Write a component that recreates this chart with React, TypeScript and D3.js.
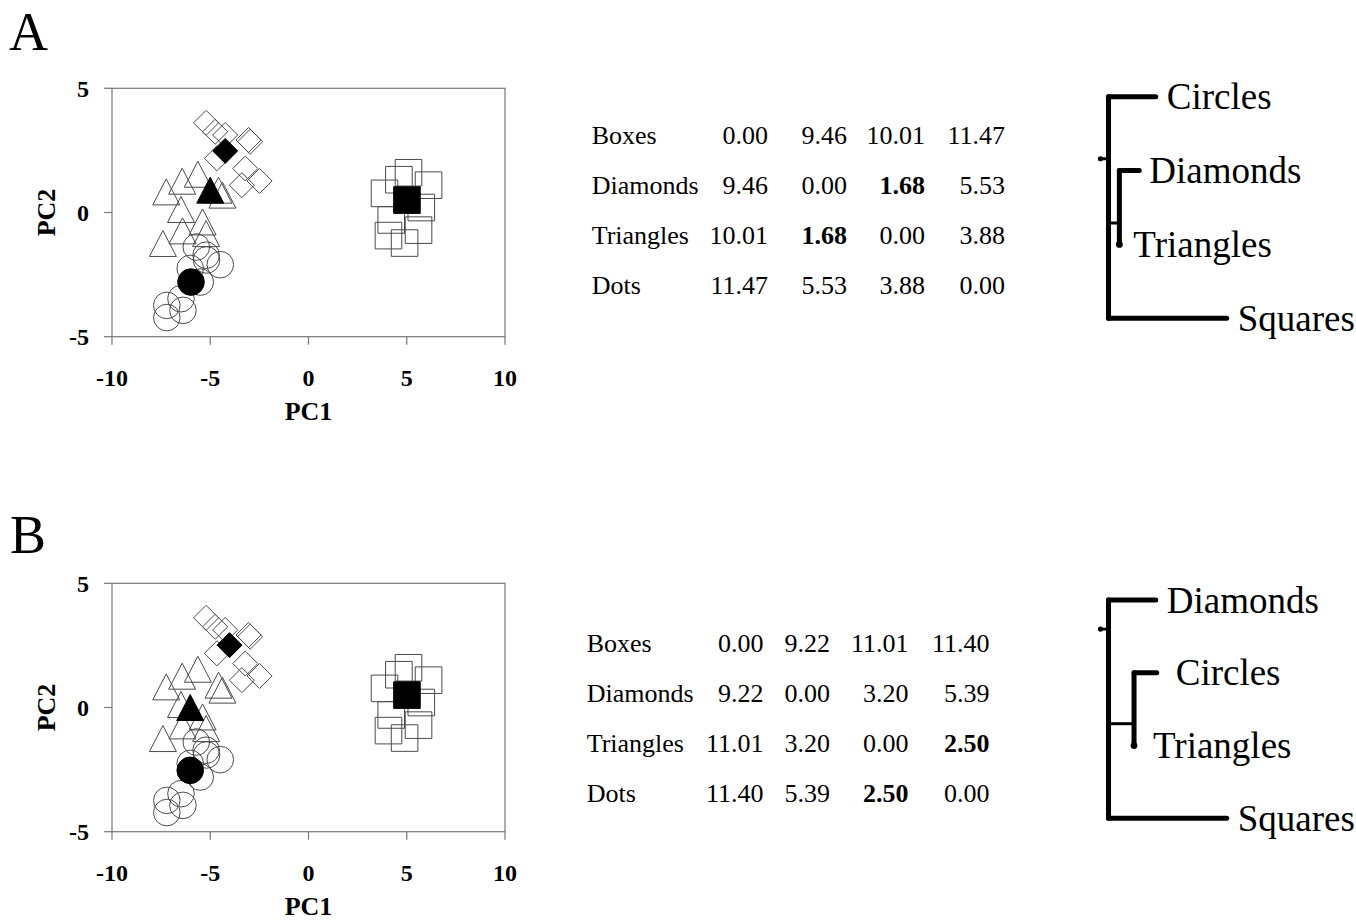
import React from 'react';
import * as d3 from 'd3';

// ---------- data ----------
const xTicks = [-10, -5, 0, 5, 10];
const yTicks = [-5, 0, 5];

const openCircles: [number, number][] = [
  [-5.71, -1.39], [-5.21, -1.72], [-5.19, -1.91], [-4.49, -2.1], [-6.02, -2.25],
  [-5.51, -2.8], [-6.49, -3.47], [-7.21, -3.74], [-6.39, -3.94], [-7.21, -4.23],
];
const openTriangles: [number, number][] = [
  [-7.24, 0.83], [-6.43, 1.26], [-5.63, 1.54], [-4.58, 0.9], [-4.38, 0.7],
  [-6.49, 0.12], [-5.39, -0.38], [-5.21, -0.85], [-6.41, -0.74], [-7.41, -1.25],
];
const openDiamonds: [number, number][] = [
  [-5.21, 3.61], [-4.75, 3.25], [-4.24, 3.12], [-3.05, 2.92], [-2.97, 2.85],
  [-4.66, 2.18], [-3.22, 1.77], [-3.39, 1.1], [-2.49, 1.27],
];
const openSquares: [number, number][] = [
  [5.09, 1.6], [4.6, 1.32], [6.11, 1.1], [3.87, 0.77], [5.74, 0.2],
  [4.21, -0.3], [5.6, -0.71], [4.07, -0.93], [4.89, -1.23],
];

const centroidsA = [
  { shape: 'circle', x: -5.98, y: -2.8 },
  { shape: 'triangle', x: -5.0, y: 0.9 },
  { shape: 'diamond', x: -4.24, y: 2.48 },
  { shape: 'square', x: 5.01, y: 0.5 },
];
const centroidsB = [
  { shape: 'circle', x: -6.02, y: -2.53 },
  { shape: 'triangle', x: -6.02, y: 0.0 },
  { shape: 'diamond', x: -4.02, y: 2.51 },
  { shape: 'square', x: 5.01, y: 0.5 },
];

const rowLabels = ['Boxes', 'Diamonds', 'Triangles', 'Dots'];
const distA = [
  ['0.00', '9.46', '10.01', '11.47'],
  ['9.46', '0.00', '1.68', '5.53'],
  ['10.01', '1.68', '0.00', '3.88'],
  ['11.47', '5.53', '3.88', '0.00'],
];
const boldA = [[1, 2], [2, 1]];
const distB = [
  ['0.00', '9.22', '11.01', '11.40'],
  ['9.22', '0.00', '3.20', '5.39'],
  ['11.01', '3.20', '0.00', '2.50'],
  ['11.40', '5.39', '2.50', '0.00'],
];
const boldB = [[2, 3], [3, 2]];

// dendrograms: leaf order, branch lengths
const leavesA = ['Circles', 'Diamonds', 'Triangles', 'Squares'];
const leavesB = ['Diamonds', 'Circles', 'Triangles', 'Squares'];
// [outer leaf length, inner node depth, inner leaf 1 length, inner leaf 2 length, outgroup length]
const branchA = [1.0, 0.23, 0.42, 0.0, 2.5];
const branchB = [1.0, 0.54, 0.48, 0.0, 2.5];
// root stub position and inner-node connector position (in leaf-index units)
const rootPosA = 0.84, innerPosA = 1.71;
const rootPosB = 0.4, innerPosB = 1.7;

// ---------- drawing ----------
const SERIF = '"Liberation Serif", "Times New Roman", serif';
const MSTROKE = '#4a4a4a';

function markerPath(shape: string, cx: number, cy: number): string {
  const p = d3.path();
  if (shape === 'circle') {
    const r = 13.3;
    p.moveTo(cx + r, cy);
    p.arc(cx, cy, r, 0, Math.PI * 2);
  } else if (shape === 'square') {
    const h = 13.3;
    p.rect(cx - h, cy - h, 2 * h, 2 * h);
  } else if (shape === 'diamond') {
    const h = 12.5;
    p.moveTo(cx, cy - h);
    p.lineTo(cx + h, cy);
    p.lineTo(cx, cy + h);
    p.lineTo(cx - h, cy);
    p.closePath();
  } else {
    const w = 13.5, hh = 13;
    p.moveTo(cx, cy - hh);
    p.lineTo(cx + w, cy + hh);
    p.lineTo(cx - w, cy + hh);
    p.closePath();
  }
  return p.toString();
}

function Scatter({ top, centroids }: { top: number; centroids: { shape: string; x: number; y: number }[] }) {
  const x = d3.scaleLinear().domain([-10, 10]).range([112, 505]);
  const y = d3.scaleLinear().domain([-5, 5]).range([top + 248.4, top]);
  const groups: [string, [number, number][]][] = [
    ['triangle', openTriangles],
    ['circle', openCircles],
    ['diamond', openDiamonds],
    ['square', openSquares],
  ];
  return (
    <g>
      <rect x={x(-10)} y={y(5)} width={x(10) - x(-10)} height={y(-5) - y(5)} fill="none" stroke="#777" strokeWidth={1.2} />
      {xTicks.map((t) => (
        <g key={'xt' + t}>
          <line x1={x(t)} x2={x(t)} y1={y(-5)} y2={y(-5) + 8} stroke="#777" strokeWidth={1.2} />
          <text x={x(t)} y={y(-5) + 49} textAnchor="middle" fontFamily={SERIF} fontWeight="bold" fontSize={24}>{t}</text>
        </g>
      ))}
      {yTicks.map((t) => (
        <g key={'yt' + t}>
          <line x1={x(-10) - 8} x2={x(-10)} y1={y(t)} y2={y(t)} stroke="#777" strokeWidth={1.2} />
          <text x={89} y={y(t)} dy="0.35em" textAnchor="end" fontFamily={SERIF} fontWeight="bold" fontSize={24}>{t}</text>
        </g>
      ))}
      <text x={x(0)} y={y(-5) + 83} textAnchor="middle" fontFamily={SERIF} fontWeight="bold" fontSize={26}>PC1</text>
      <text transform={`translate(55,${y(0)}) rotate(-90)`} textAnchor="middle" fontFamily={SERIF} fontWeight="bold" fontSize={26}>PC2</text>
      {groups.map(([shape, pts]) =>
        pts.map((pt, i) => (
          <path key={shape + i} d={markerPath(shape, x(pt[0]), y(pt[1]))} fill="none" stroke={MSTROKE} strokeWidth={1} />
        ))
      )}
      {centroids.map((c) => (
        <path key={'c' + c.shape} d={markerPath(c.shape, x(c.x), y(c.y))} fill="#000" stroke="#000" strokeWidth={1} />
      ))}
    </g>
  );
}

function Table({ left, top, colRights, data, bold }: { left: number; top: number; colRights: number[]; data: string[][]; bold: number[][] }) {
  const row = d3.scalePoint<string>().domain(rowLabels).range([top, top + 150]);
  return (
    <g fontFamily={SERIF} fontSize={26}>
      {rowLabels.map((lab, r) => (
        <g key={lab}>
          <text x={left} y={row(lab)}>{lab}</text>
          {data[r].map((v, c) => {
            const isBold = bold.some((b) => b[0] === r && b[1] === c);
            return (
              <text key={c} x={colRights[c]} y={row(lab)} textAnchor="end" fontWeight={isBold ? 'bold' : 'normal'}>{v}</text>
            );
          })}
        </g>
      ))}
    </g>
  );
}

function Dendro({ top, bottom, leaves, branch, rootPos, innerPos, labelGaps }: {
  top: number; bottom: number; leaves: string[]; branch: number[]; rootPos: number; innerPos: number; labelGaps: number[];
}) {
  const x = d3.scaleLinear().domain([0, 2.5]).range([1108.5, 1226.7]);
  const yi = d3.scaleLinear().domain([0, 3]).range([top, bottom]);
  const lw = 5;
  const innerX = x(branch[1]);
  const tips = [x(branch[0]), innerX + (x(branch[2]) - x(0)), innerX + (x(branch[3]) - x(0)), x(branch[4])];
  return (
    <g stroke="#000" strokeLinecap="round" fill="none">
      <line x1={x(0)} x2={x(0)} y1={yi(0)} y2={yi(3)} strokeWidth={lw} />
      <line x1={x(0)} x2={tips[0]} y1={yi(0)} y2={yi(0)} strokeWidth={lw} />
      <line x1={x(0)} x2={tips[3]} y1={yi(3)} y2={yi(3)} strokeWidth={lw} />
      <line x1={x(-0.17)} x2={x(0)} y1={yi(rootPos)} y2={yi(rootPos)} strokeWidth={2.8} />
      <circle cx={x(-0.17)} cy={yi(rootPos)} r={2.6} fill="#000" stroke="none" />
      <line x1={x(0)} x2={innerX} y1={yi(innerPos)} y2={yi(innerPos)} strokeWidth={3} strokeLinecap="butt" />
      <line x1={innerX} x2={innerX} y1={yi(1)} y2={yi(2)} strokeWidth={lw} />
      <line x1={innerX} x2={tips[1]} y1={yi(1)} y2={yi(1)} strokeWidth={lw} />
      <circle cx={tips[2]} cy={yi(2)} r={3.4} fill="#000" stroke="none" />
      {leaves.map((lab, i) => (
        <text key={lab} x={tips[i] + labelGaps[i]} y={yi(i)} dy="0.34em" fontFamily={SERIF} fontSize={37} fill="#000" stroke="none">{lab}</text>
      ))}
    </g>
  );
}

export default function App() {
  return (
    <svg width={1356} height={920} style={{ position: 'absolute', left: 0, top: 0, background: '#fff' }}>
      <rect width={1356} height={920} fill="#fff" />
      <text x={9} y={50} fontFamily={SERIF} fontSize={54}>A</text>
      <text x={10} y={553} fontFamily={SERIF} fontSize={54}>B</text>
      <Scatter top={88.3} centroids={centroidsA} />
      <Scatter top={583.3} centroids={centroidsB} />
      <Table left={591.7} top={144} colRights={[768, 847, 925, 1005]} data={distA} bold={boldA} />
      <Table left={586.7} top={651.7} colRights={[763.5, 830, 908.5, 989.5]} data={distB} bold={boldB} />
      <Dendro top={96.7} bottom={318.3} leaves={leavesA} branch={branchA} rootPos={rootPosA} innerPos={innerPosA} labelGaps={[11, 10, 14, 11]} />
      <Dendro top={600} bottom={818.3} leaves={leavesB} branch={branchB} rootPos={rootPosB} innerPos={innerPosB} labelGaps={[11, 19, 19, 11]} />
    </svg>
  );
}
